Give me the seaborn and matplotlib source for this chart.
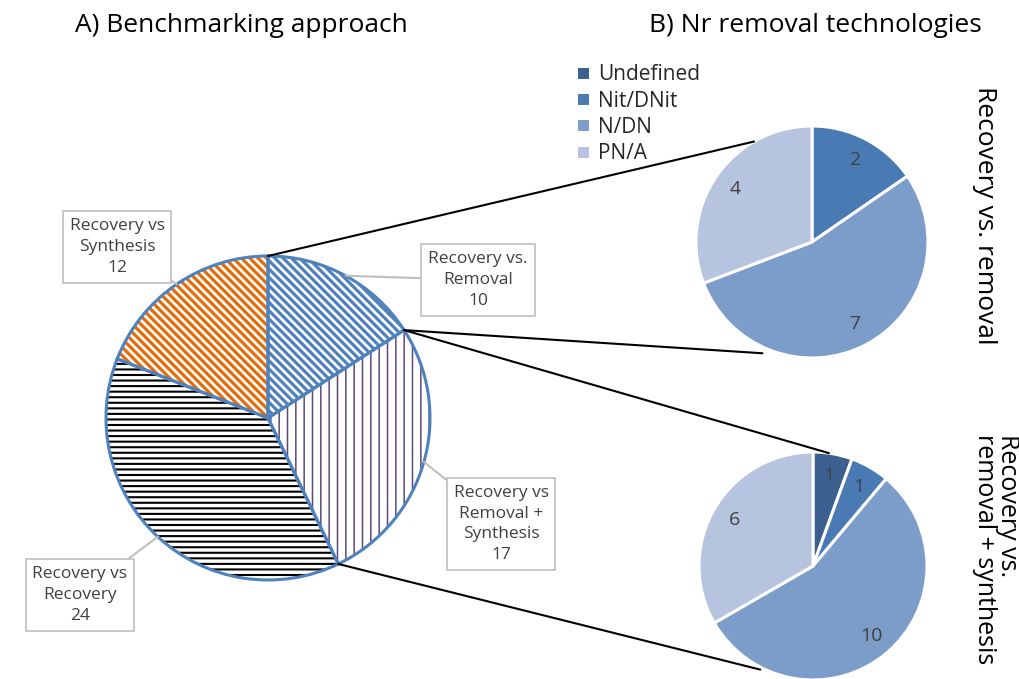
import numpy as np
import matplotlib
matplotlib.use("Agg")
import matplotlib.pyplot as plt
from matplotlib.patches import ConnectionPatch
import seaborn as sns

# ---------------- data ----------------
approach_labels = ["Recovery vs.\nRemoval", "Recovery vs\nRemoval +\nSynthesis",
                   "Recovery vs\nRecovery", "Recovery vs\nSynthesis"]
approach_values = [10, 17, 24, 12]

tech_categories = ["Undefined", "Nit/DNit", "N/DN", "PN/A"]
removal_values = [0, 2, 7, 4]
removal_synth_values = [1, 1, 10, 6]

# ---------------- style ----------------
sns.set_theme(style="white")
plt.rcParams["font.family"] = ["Open Sans", "DejaVu Sans"]

W, H = 1019, 679
fig = plt.figure(figsize=(W / 100, H / 100), dpi=100)

def fx(px):
    return px / W

def fy(py):
    return 1 - py / H

def pie_axes(cx, cy, r, pad=1.05):
    side = 2 * pad * r
    ax = fig.add_axes([fx(cx - side / 2), fy(cy + side / 2), side / W, side / H])
    return ax, pad

tech_colors = ["#3b6090", "#4a7ab4", "#7c9cca", "#b6c4e0"]
hatch_colors = ["#4f81bd", "#5f497a", "#000000", "#e46c0a"]
hatches = ["\\\\\\\\", "||", "---", "\\\\\\\\"]
hatch_lw = [2.3, 1.1, 1.5, 2.3]
edge_blue = "#4f81bd"

# ---------------- main pie ----------------
axm, pad = pie_axes(268, 418, 162)
plt.rcParams["hatch.linewidth"] = 2.0
wedges, _ = axm.pie(approach_values, startangle=90, counterclock=False,
                    colors=["white"] * 4, wedgeprops=dict(linewidth=0))
for w, hc, h, lw in zip(wedges, hatch_colors, hatches, hatch_lw):
    w.set_hatch(h)
    w.set_edgecolor(hc)
    w.set_linewidth(0)
    if hasattr(w, "set_hatch_linewidth"):
        w.set_hatch_linewidth(lw)
axm.pie(approach_values, startangle=90, counterclock=False,
        colors=["none"] * 4,
        wedgeprops=dict(linewidth=2.2, edgecolor=edge_blue, facecolor="none"))
axm.set_xlim(-pad, pad)
axm.set_ylim(-pad, pad)
axm.set_aspect("equal")
axm.axis("off")

# callout labels
box_pos = [(478, 280), (501, 524), (80, 595), (117, 247)]
for w, lab, val, (bx, by) in zip(wedges, approach_labels, approach_values, box_pos):
    mid = np.deg2rad((w.theta1 + w.theta2) / 2)
    axm.annotate(f"{lab}\n{val}", xy=(np.cos(mid), np.sin(mid)), xycoords="data",
                 xytext=(fx(bx), fy(by)), textcoords="figure fraction",
                 ha="center", va="center", fontsize=12.5, color="#404040",
                 linespacing=1.4,
                 bbox=dict(boxstyle="square,pad=0.4", fc="white", ec="#bfbfbf", lw=1.2),
                 arrowprops=dict(arrowstyle="-", color="#bfbfbf", lw=1.5,
                                 shrinkA=0, shrinkB=0))

# ---------------- small pies ----------------
def small_pie(cx, cy, r, values):
    ax, p = pie_axes(cx, cy, r)
    lbls = [str(v) if v > 0 else "" for v in values]
    ws, txts = ax.pie(values, startangle=90, counterclock=False, colors=tech_colors,
                      labels=lbls, labeldistance=0.8,
                      wedgeprops=dict(linewidth=2.2, edgecolor="white"),
                      textprops=dict(fontsize=14, color="#404040", ha="center", va="center"))
    for t in txts:
        t.set_ha("center")
        t.set_va("center")
    ax.set_xlim(-p, p)
    ax.set_ylim(-p, p)
    ax.set_aspect("equal")
    ax.axis("off")
    return ax, ws

axt, wt = small_pie(812, 242, 116, removal_values)
axb, wb = small_pie(813, 566, 114, removal_synth_values)

# connector lines
def pt(deg, r=1.0):
    a = np.deg2rad(deg)
    return (r * np.cos(a), r * np.sin(a))

b1 = 90
b2 = wedges[0].theta1  # boundary Removal / Removal+Synthesis
b3 = wedges[1].theta1  # boundary Removal+Synthesis / Recovery
for (ang_main, axs, ang_small, r_small) in [(b1, axt, 120, 1.0), (b2, axt, 246, 1.05),
                                              (b2, axb, 82, 1.0), (b3, axb, 243, 1.02)]:
    con = ConnectionPatch(xyA=pt(ang_main), coordsA=axm.transData,
                          xyB=pt(ang_small, r_small), coordsB=axs.transData,
                          color="black", lw=1.5)
    fig.add_artist(con)

# legend
fig.legend(handles=wt, labels=tech_categories, loc="upper left",
           bbox_to_anchor=(fx(568), fy(56)), frameon=False, fontsize=15,
           handlelength=0.65, handleheight=0.65, handletextpad=0.4,
           labelspacing=0.25, borderaxespad=0)

# titles
fig.text(fx(241), fy(25), "A) Benchmarking approach", ha="center", va="center",
         fontsize=19, color="black")
fig.text(fx(815), fy(25), "B) Nr removal technologies", ha="center", va="center",
         fontsize=19, color="black")
fig.text(fx(985), fy(215), "Recovery vs. removal", rotation=-90, ha="center",
         va="center", fontsize=19, color="black")
fig.text(fx(996), fy(434), "Recovery vs.\nremoval + synthesis", rotation=-90,
         ha="center", va="top", fontsize=18, color="black",
         multialignment="left", linespacing=0.9)

fig.savefig("out.png", dpi=100, facecolor="white")
